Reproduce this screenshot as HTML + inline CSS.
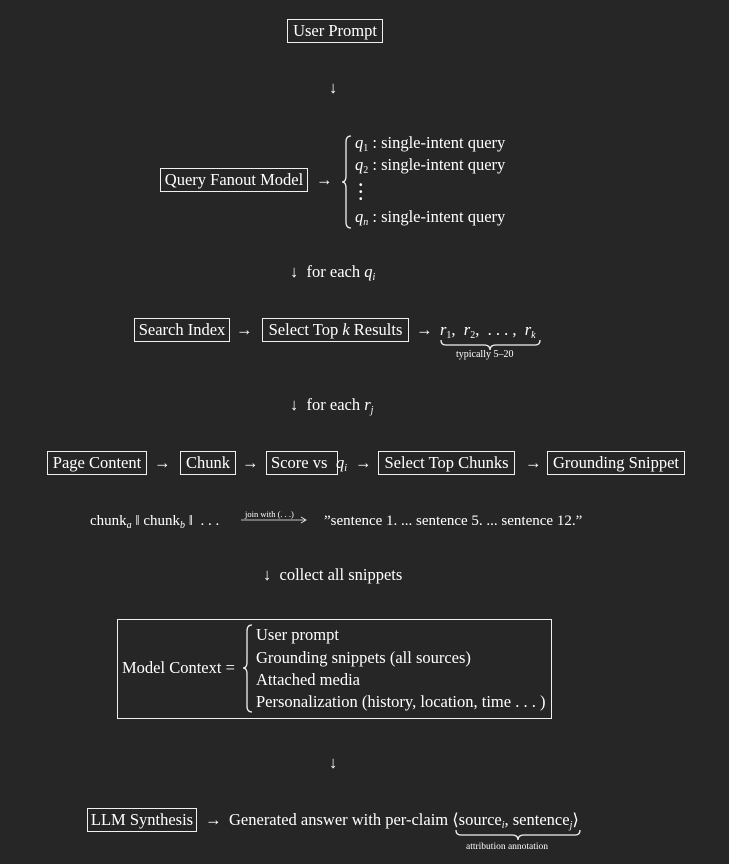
<!DOCTYPE html>
<html><head><meta charset="utf-8"><style>
body{margin:0;width:729px;height:864px;background:#262626;overflow:hidden;position:relative;font-family:"Liberation Serif","DejaVu Serif",serif;color:#fff;font-size:16.5px}
.t{position:absolute;white-space:nowrap;line-height:18px}
.b{position:absolute;border:1px solid #f0f0f0;box-sizing:border-box;white-space:nowrap;display:flex;align-items:center;justify-content:center;line-height:1}
i{font-style:italic}
sub{font-size:10px;vertical-align:-3px;line-height:0}
.s{font-size:10px}
svg{position:absolute;left:0;top:0}
</style></head><body>
<div class="b" style="left:287px;top:19px;width:96px;height:24px">User Prompt</div>
<div class="t" style="left:329px;top:79px">↓</div>

<div class="b" style="left:160px;top:168px;width:148px;height:24px">Query Fanout Model</div>
<div class="t" style="left:316px;top:171px">→</div>
<div class="t" style="left:355px;top:134px"><i>q</i><sub>1</sub> : single-intent query</div>
<div class="t" style="left:355px;top:156px"><i>q</i><sub>2</sub> : single-intent query</div>
<div class="t" style="left:358px;top:181px;line-height:7px;font-weight:bold">·<br>·<br>·</div>
<div class="t" style="left:355px;top:208px"><i>q<sub>n</sub></i> : single-intent query</div>

<div class="t" style="left:290px;top:263px">↓ &nbsp;for each <i>q<sub>i</sub></i></div>

<div class="b" style="left:134px;top:318px;width:96px;height:24px">Search Index</div>
<div class="t" style="left:236px;top:321px">→</div>
<div class="b" style="left:262px;top:318px;width:147px;height:24px">Select Top&nbsp;<i>k</i>&nbsp;Results</div>
<div class="t" style="left:416px;top:321px">→</div>
<div class="t" style="left:440px;top:321px"><i>r</i><sub>1</sub>, &nbsp;<i>r</i><sub>2</sub>, &nbsp;. . . , &nbsp;<i>r<sub>k</sub></i></div>
<div class="t s" style="left:456px;top:346px">typically 5–20</div>

<div class="t" style="left:290px;top:396px">↓ &nbsp;for each <i>r<sub>j</sub></i></div>

<div class="b" style="left:47px;top:451px;width:100px;height:24px">Page Content</div>
<div class="t" style="left:154px;top:454px">→</div>
<div class="b" style="left:180px;top:451px;width:56px;height:24px">Chunk</div>
<div class="t" style="left:242px;top:454px">→</div>
<div class="b" style="left:266px;top:451px;width:72px;height:24px;justify-content:flex-start;padding-left:4px">Score vs</div>
<div class="t" style="left:336px;top:454px"><i>q<sub>i</sub></i></div>
<div class="t" style="left:355px;top:454px">→</div>
<div class="b" style="left:378px;top:451px;width:137px;height:24px">Select Top Chunks</div>
<div class="t" style="left:525px;top:454px">→</div>
<div class="b" style="left:547px;top:451px;width:138px;height:24px">Grounding Snippet</div>

<div class="t" style="left:90px;top:512px;font-size:15px">chunk<sub><i>a</i></sub> ‖ chunk<sub><i>b</i></sub> ‖ &nbsp;. . .</div>
<div class="t" style="left:245px;top:505px;font-size:8.5px">join with (. . .)</div>
<div class="t" style="left:324px;top:512px;font-size:15px">”sentence 1. ... sentence 5. ... sentence 12.”</div>

<div class="t" style="left:263px;top:566px">↓ &nbsp;collect all snippets</div>

<div class="b" style="left:117px;top:619px;width:435px;height:100px"></div>
<div class="t" style="left:122px;top:659px">Model Context =</div>
<div class="t" style="left:256px;top:626px">User prompt</div>
<div class="t" style="left:256px;top:649px">Grounding snippets (all sources)</div>
<div class="t" style="left:256px;top:671px">Attached media</div>
<div class="t" style="left:256px;top:693px">Personalization (history, location, time . . . )</div>

<div class="t" style="left:329px;top:754px">↓</div>

<div class="b" style="left:87px;top:808px;width:110px;height:24px">LLM Synthesis</div>
<div class="t" style="left:205px;top:811px">→</div>
<div class="t" style="left:229px;top:811px">Generated answer with per-claim ⟨source<sub><i>i</i></sub>, sentence<sub><i>j</i></sub>⟩</div>
<div class="t s" style="left:466px;top:838px;font-size:9.5px">attribution annotation</div>

<svg width="729" height="864" fill="none" stroke="#f0f0f0" stroke-width="1.3">
<path d="M351 136 Q346 136 346 142 L346 176 Q346 182 342 182 Q346 182 346 188 L346 222 Q346 228 351 228"/>
<path d="M252 625 Q247 625 247 631 L247 662 Q247 668 243 668 Q247 668 247 674 L247 706 Q247 712 252 712"/>
<path d="M441 340 Q441 345 446 345 L484 345 Q490 345 490 350 Q490 345 496 345 L535 345 Q540 345 540 340"/>
<path d="M456 830 Q456 835 461 835 L512 835 Q518 835 518 840 Q518 835 524 835 L575 835 Q580 835 580 830"/>
<path d="M241 520 L305 520 M301 517 L306 520 L301 523" stroke-width="0.8"/>
</svg>
</body></html>
